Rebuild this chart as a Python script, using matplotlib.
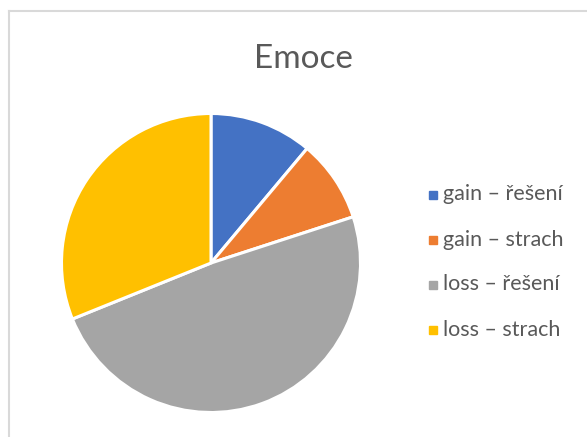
import matplotlib.pyplot as plt
from matplotlib.lines import Line2D

# data
labels = ["gain – řešení", "gain – strach", "loss – řešení", "loss – strach"]
values = [5, 4, 22, 14]
colors = ["#4472C4", "#ED7D31", "#A5A5A5", "#FFC000"]

plt.rcParams['font.family'] = ['Lato', 'DejaVu Sans']

W, H = 587, 437
fig = plt.figure(figsize=(W / 100, H / 100), dpi=100)

# chart frame (top and left edges visible)
fig.add_artist(Line2D([9 / W, 1], [1 - 11 / H, 1 - 11 / H], color="#D9D9D9", lw=1.5))
fig.add_artist(Line2D([9 / W, 9 / W], [0, 1 - 11 / H], color="#D9D9D9", lw=1.5))

# pie: centre (211, 263) px, radius 150 px
cx, cy, r = 211, 263, 151
ax = fig.add_axes([(cx - r) / W, (H - cy - r) / H, 2 * r / W, 2 * r / H])
ax.pie(values, colors=colors, startangle=90, counterclock=False, radius=1,
       wedgeprops=dict(edgecolor="white", linewidth=2.2))
ax.set_xlim(-1.01, 1.01)
ax.set_ylim(-1.01, 1.01)
ax.set_aspect("equal")
ax.axis("off")

fig.text(303 / W, 1 - 68 / H, "Emoce", ha="center", va="baseline",
         fontsize=24, color="#595959")

# legend
rows = [195, 240, 285, 330]
for lab, col, y in zip(labels, colors, rows):
    fig.patches.append(plt.Rectangle((429 / W, 1 - (y + 4) / H), 8 / W, 8 / H,
                                     transform=fig.transFigure, color=col))
    fig.text(443 / W, 1 - (y + 5.5) / H, lab, ha="left", va="baseline",
             fontsize=15.5, color="#595959")

fig.savefig("out.png", dpi=100, facecolor="white")
